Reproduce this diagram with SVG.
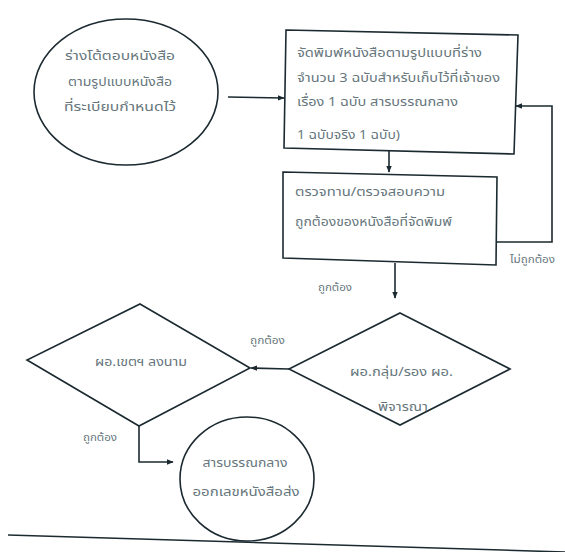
<svg xmlns="http://www.w3.org/2000/svg" width="565" height="552" viewBox="0 0 565 552">
<style>
.shape{fill:none;stroke:#1b2a30;stroke-width:1.6}
.conn{fill:none;stroke:#1b2a30;stroke-width:1.6}
text{font-family:"Noto Sans Thai","Noto Sans",sans-serif;fill:#66767c}
.t{font-size:13px}
.m{text-anchor:middle}
.lbl{font-size:11px}
</style>
<defs>
<marker id="ah" viewBox="0 0 10 10" refX="9" refY="5" markerWidth="7" markerHeight="7" orient="auto" markerUnits="userSpaceOnUse">
<path d="M0,1 L10,5 L0,9 z" fill="#1b2a30"/>
</marker>
</defs>
<rect width="565" height="552" fill="#ffffff"/>
<g id="connectors">
<line class="conn" x1="228" y1="97" x2="284" y2="98" marker-end="url(#ah)"/>
<line class="conn" x1="389" y1="151" x2="389" y2="172" marker-end="url(#ah)"/>
<polyline class="conn" points="496,242 552,242 552,106 516,106" marker-end="url(#ah)"/>
<line class="conn" x1="395" y1="263" x2="395" y2="298" marker-end="url(#ah)"/>
<line class="conn" x1="289" y1="369" x2="251" y2="368" marker-end="url(#ah)"/>
<polyline class="conn" points="139,426 139,462 173,462" marker-end="url(#ah)"/>
<line x1="8" y1="535" x2="565" y2="552" stroke="#1b2a30" stroke-width="1.6"/>
<text class="lbl" x="510" y="263" textLength="45" lengthAdjust="spacingAndGlyphs">ไม่ถูกต้อง</text>
<text class="lbl" x="318" y="291" textLength="34" lengthAdjust="spacingAndGlyphs">ถูกต้อง</text>
<text class="lbl" x="250" y="344" textLength="35" lengthAdjust="spacingAndGlyphs">ถูกต้อง</text>
<text class="lbl" x="83" y="441" textLength="34" lengthAdjust="spacingAndGlyphs">ถูกต้อง</text>
</g>
<g id="draft">
<ellipse class="shape" cx="126" cy="92" rx="92" ry="73"/>
<text class="t m" x="120" y="60" textLength="110" lengthAdjust="spacingAndGlyphs">ร่างโต้ตอบหนังสือ</text>
<text class="t m" x="120" y="86" textLength="104" lengthAdjust="spacingAndGlyphs">ตามรูปแบบหนังสือ</text>
<text class="t m" x="120" y="111" textLength="112" lengthAdjust="spacingAndGlyphs">ที่ระเบียบกำหนดไว้</text>
</g>
<g id="print">
<polygon class="shape" points="286,30 518,35 514,154 284,148"/>
<text class="t" x="297" y="57" textLength="185" lengthAdjust="spacingAndGlyphs">จัดพิมพ์หนังสือตามรูปแบบที่ร่าง</text>
<text class="t" x="297" y="82" textLength="203" lengthAdjust="spacingAndGlyphs">จำนวน 3 ฉบับสำหรับเก็บไว้ที่เจ้าของ</text>
<text class="t" x="297" y="106" textLength="161" lengthAdjust="spacingAndGlyphs">เรื่อง 1 ฉบับ สารบรรณกลาง</text>
<text class="t" x="297" y="139" textLength="103" lengthAdjust="spacingAndGlyphs">1 ฉบับจริง 1 ฉบับ)</text>
</g>
<g id="check">
<polygon class="shape" points="283,172 497,177 496,265 283,258"/>
<text class="t" x="295" y="196" textLength="150" lengthAdjust="spacingAndGlyphs">ตรวจทาน/ตรวจสอบความ</text>
<text class="t" x="295" y="226" textLength="157" lengthAdjust="spacingAndGlyphs">ถูกต้องของหนังสือที่จัดพิมพ์</text>
</g>
<g id="review">
<polygon class="shape" points="400,313 510,369 400,425 289,369"/>
<text class="t" x="350" y="376" textLength="103" lengthAdjust="spacingAndGlyphs">ผอ.กลุ่ม/รอง ผอ.</text>
<text class="t" x="378" y="411" textLength="50" lengthAdjust="spacingAndGlyphs">พิจารณา</text>
</g>
<g id="sign">
<polygon class="shape" points="140,304 250,368 139,426 27,360"/>
<text class="t" x="95" y="366" textLength="92" lengthAdjust="spacingAndGlyphs">ผอ.เขตฯ ลงนาม</text>
</g>
<g id="number">
<ellipse class="shape" cx="247" cy="479" rx="67" ry="62"/>
<text class="t m" x="245" y="467" textLength="85" lengthAdjust="spacingAndGlyphs">สารบรรณกลาง</text>
<text class="t m" x="246" y="496" textLength="107" lengthAdjust="spacingAndGlyphs">ออกเลขหนังสือส่ง</text>
</g>
</svg>
